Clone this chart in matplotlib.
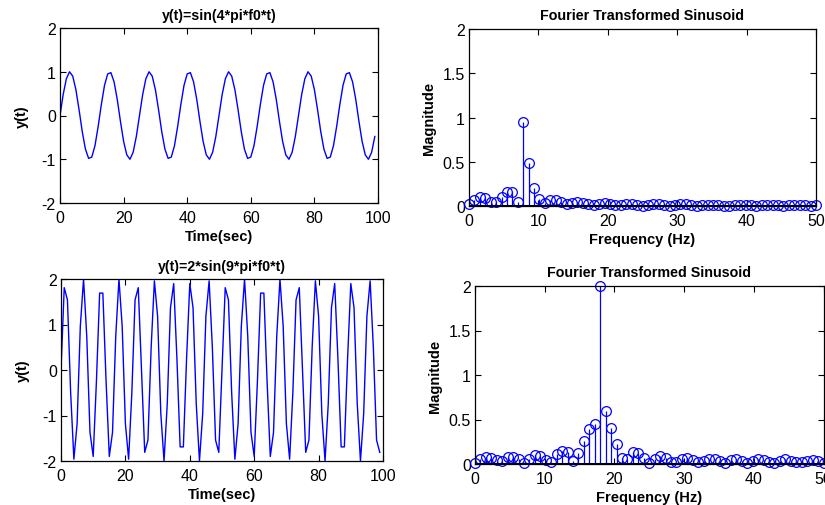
import numpy as np
import matplotlib
matplotlib.use('Agg')
from matplotlib import pyplot as plt

plt.rcParams['font.family'] = ['Liberation Sans', 'DejaVu Sans']
plt.rcParams['axes.unicode_minus'] = False

# sample times (sec)
t = np.arange(100)

# y(t)=sin(4*pi*f0*t), values
y1 = [0.00, 0.48, 0.84, 1.00, 0.90, 0.59, 0.13, -0.37, -0.77, -0.98,
      -0.95, -0.69, -0.25, 0.25, 0.69, 0.95, 0.98, 0.77, 0.37, -0.13,
      -0.59, -0.90, -1.00, -0.84, -0.48, 0.00, 0.48, 0.84, 1.00, 0.90,
      0.59, 0.13, -0.37, -0.77, -0.98, -0.95, -0.69, -0.25, 0.25, 0.69,
      0.95, 0.98, 0.77, 0.37, -0.13, -0.59, -0.90, -1.00, -0.84, -0.48,
      0.00, 0.48, 0.84, 1.00, 0.90, 0.59, 0.13, -0.37, -0.77, -0.98,
      -0.95, -0.69, -0.25, 0.25, 0.69, 0.95, 0.98, 0.77, 0.37, -0.13,
      -0.59, -0.90, -1.00, -0.84, -0.48, 0.00, 0.48, 0.84, 1.00, 0.90,
      0.59, 0.13, -0.37, -0.77, -0.98, -0.95, -0.69, -0.25, 0.25, 0.69,
      0.95, 0.98, 0.77, 0.37, -0.13, -0.59, -0.90, -1.00, -0.84, -0.48]

# y(t)=2*sin(9*pi*f0*t), values
y2 = [0.00, 1.81, 1.54, -0.50, -1.96, -1.18, 0.96, 2.00, 0.74, -1.37,
      -1.90, -0.25, 1.69, 1.69, -0.25, -1.90, -1.37, 0.74, 2.00, 0.96,
      -1.18, -1.96, -0.50, 1.54, 1.81, 0.00, -1.81, -1.54, 0.50, 1.96,
      1.18, -0.96, -2.00, -0.74, 1.37, 1.90, 0.25, -1.69, -1.69, 0.25,
      1.90, 1.37, -0.74, -2.00, -0.96, 1.18, 1.96, 0.50, -1.54, -1.81,
      0.00, 1.81, 1.54, -0.50, -1.96, -1.18, 0.96, 2.00, 0.74, -1.37,
      -1.90, -0.25, 1.69, 1.69, -0.25, -1.90, -1.37, 0.74, 2.00, 0.96,
      -1.18, -1.96, -0.50, 1.54, 1.81, 0.00, -1.81, -1.54, 0.50, 1.96,
      1.18, -0.96, -2.00, -0.74, 1.37, 1.90, 0.25, -1.69, -1.69, 0.25,
      1.90, 1.37, -0.74, -2.00, -0.96, 1.18, 1.96, 0.50, -1.54, -1.81]

# frequency bins (Hz), spacing 100/128
freq = np.arange(65) * 100 / 128

# magnitude of the first spectrum
mag1 = [0.02, 0.07, 0.10, 0.09, 0.05, 0.04, 0.10, 0.155, 0.155, 0.05,
        0.95, 0.49, 0.20, 0.08, 0.03, 0.07, 0.07, 0.04, 0.02, 0.03,
        0.04, 0.035, 0.02, 0.01, 0.025, 0.03, 0.025, 0.01, 0.012, 0.022,
        0.024, 0.015, 0.005, 0.014, 0.02, 0.02, 0.012, 0.004, 0.01, 0.017,
        0.018, 0.012, 0.005, 0.006, 0.014, 0.016, 0.013, 0.005, 0.004, 0.012,
        0.015, 0.013, 0.007, 0.002, 0.01, 0.014, 0.013, 0.007, 0.002, 0.008,
        0.013, 0.013, 0.008, 0.002, 0.006]

# magnitude of the second spectrum
mag2 = [0.01, 0.056, 0.08, 0.067, 0.045, 0.03, 0.075, 0.08, 0.056, 0.01,
        0.056, 0.10, 0.094, 0.05, 0.02, 0.11, 0.15, 0.14, 0.037, 0.12,
        0.26, 0.39, 0.45, 2.00, 0.59, 0.41, 0.23, 0.067, 0.056, 0.13,
        0.12, 0.064, 0.01, 0.056, 0.09, 0.067, 0.025, 0.025, 0.056, 0.064,
        0.05, 0.017, 0.037, 0.056, 0.056, 0.03, 0.008, 0.05, 0.056, 0.037,
        0.01, 0.037, 0.056, 0.05, 0.026, 0.01, 0.037, 0.056, 0.037, 0.02,
        0.02, 0.037, 0.05, 0.037, 0.01]

W, H = 825, 506
fig = plt.figure(figsize=(W / 100, H / 100), dpi=100)


def px_axes(left, top, right, bottom):
    return fig.add_axes([left / W, 1 - bottom / H, (right - left) / W, (bottom - top) / H])


def style(ax):
    ax.tick_params(direction='in', top=True, right=True, length=4, width=0.8,
                   labelsize=11.5, colors='black')
    ax.tick_params(axis='x', pad=5)
    ax.tick_params(axis='y', pad=3)
    for s in ax.spines.values():
        s.set_linewidth(0.9)


# left column: time signals
for y, box, title in [(y1, (60, 29, 378, 204), 'y(t)=sin(4*pi*f0*t)'),
                      (y2, (61, 280, 383, 462), 'y(t)=2*sin(9*pi*f0*t)')]:
    ax = px_axes(*box)
    ax.plot(t, y, color='blue', lw=1.0)
    ax.set_xlim(0, 100)
    ax.set_ylim(-2, 2)
    ax.set_xticks([0, 20, 40, 60, 80, 100])
    ax.set_yticks([-2, -1, 0, 1, 2])
    ax.set_title(title, fontsize=10.2, fontweight='bold', pad=6.5)
    ax.set_xlabel('Time(sec)', fontsize=10.5, fontweight='bold', labelpad=3)
    ax.set_ylabel('y(t)', fontsize=10.5, fontweight='bold', labelpad=9)
    style(ax)

# right column: spectra
for mag, box in [(mag1, (469, 30, 816, 207)), (mag2, (475, 287, 823.5, 465))]:
    ax = px_axes(*box)
    ml, sl, bl = ax.stem(freq, mag, linefmt='b-', markerfmt='bo', basefmt='k-')
    plt.setp(sl, linewidth=0.9)
    plt.setp(ml, markerfacecolor='none', markeredgecolor='blue', markersize=7, markeredgewidth=0.9)
    plt.setp(bl, linewidth=2.2, color='black')
    ml.set_clip_on(False)
    ax.set_xlim(0, 50)
    ax.set_ylim(0, 2)
    ax.set_xticks([0, 10, 20, 30, 40, 50])
    ax.set_yticks([0, 0.5, 1, 1.5, 2])
    ax.set_yticklabels(['0', '0.5', '1', '1.5', '2'])
    ax.set_title('Fourier Transformed Sinusoid', fontsize=10.3, fontweight='bold', pad=7.2)
    ax.set_xlabel('Frequency (Hz)', fontsize=10.5, fontweight='bold', labelpad=3)
    ax.set_ylabel('Magnitude', fontsize=10.5, fontweight='bold', labelpad=5)
    style(ax)

fig.savefig('out.png', dpi=100)
